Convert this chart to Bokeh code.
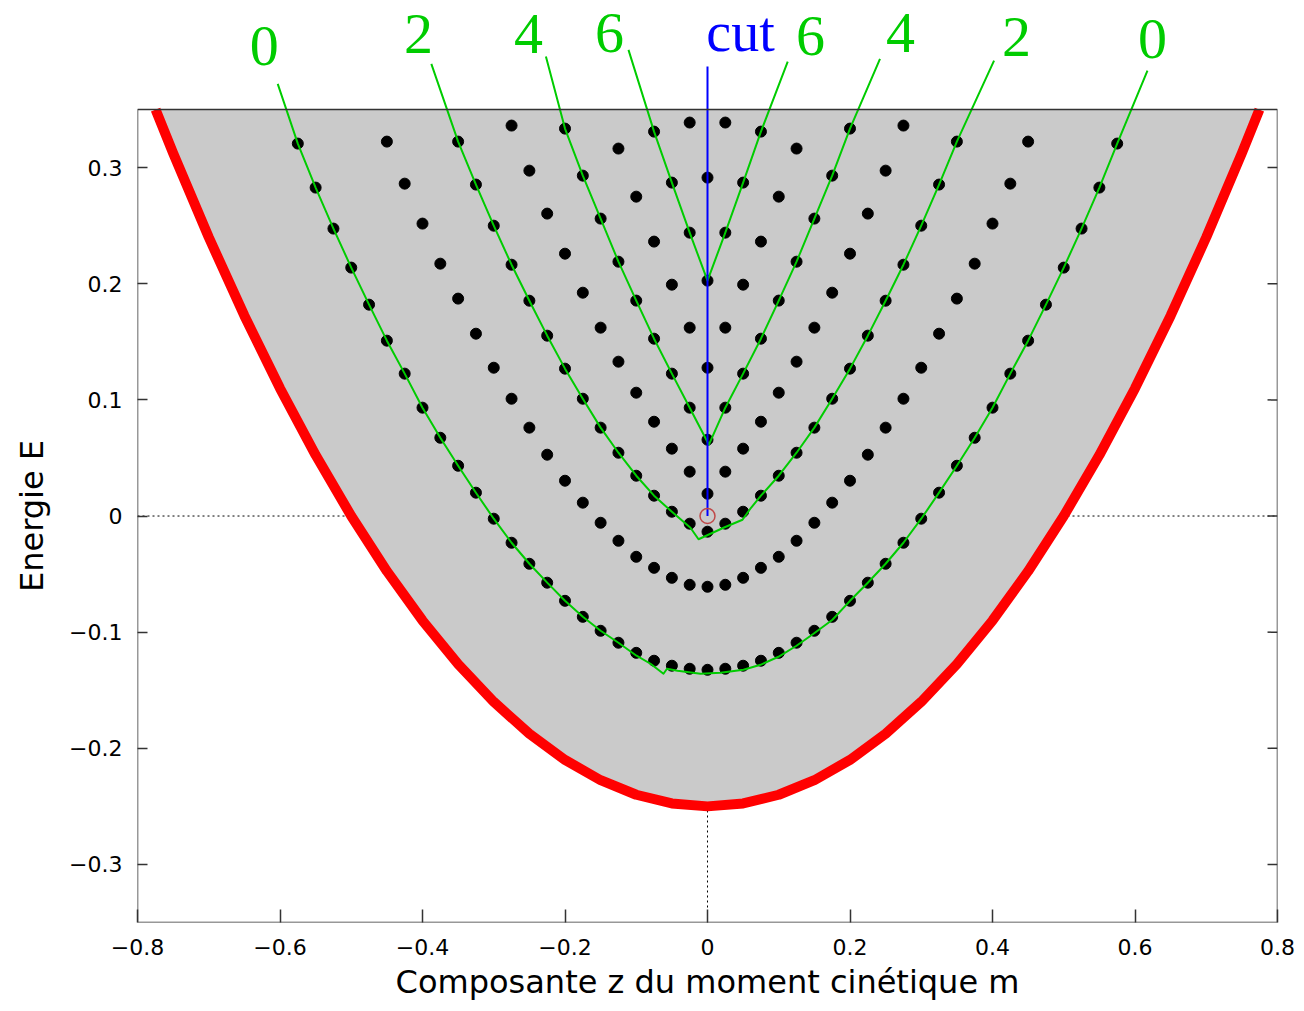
import math
from bokeh.plotting import figure
from bokeh.layouts import row
from bokeh.models import (Range1d, FixedTicker, Span, BoxAnnotation, CustomJSTickFormatter)
from bokeh.core.properties import value
from bokeh.embed import file_html
from bokeh.resources import INLINE

# ---------------- data ----------------
# quantised values of m (step 0.025), non-negative half; the spectrum is symmetric in m
m_grid = [0.0, 0.025, 0.05, 0.075, 0.1, 0.125, 0.15, 0.175, 0.2, 0.225, 0.25, 0.275,
          0.3, 0.325, 0.35, 0.375, 0.4, 0.425, 0.45, 0.475, 0.5, 0.525, 0.55, 0.575]

# energy levels, one list per band, indexed by |m| / 0.025
band0_E = [-0.1324, -0.1315, -0.1289, -0.1246, -0.1178, -0.1091, -0.0988, -0.0868,
           -0.0730, -0.0574, -0.0411, -0.0230, -0.0023, 0.0201, 0.0433, 0.0674,
           0.0933, 0.1226, 0.1510, 0.1820, 0.2139, 0.2475, 0.2828, 0.3207]
band1_E = [-0.0609, -0.0592, -0.0532, -0.0446, -0.0351, -0.0213, -0.0058, 0.0115,
           0.0304, 0.0528, 0.0761, 0.1010, 0.1277, 0.1570, 0.1872, 0.2173, 0.2518,
           0.2862, 0.3224]
band2_E = [-0.0135, -0.0066, 0.0037, 0.0175, 0.0347, 0.0545, 0.0761, 0.1010, 0.1269,
           0.1553, 0.1854, 0.2164, 0.2500, 0.2854, 0.3224]
band3_E = [0.0192, 0.0382, 0.0580, 0.0812, 0.1062, 0.1329, 0.1622, 0.1923, 0.2259,
           0.2604, 0.2974, 0.3362]
band4_E = [0.0657, 0.0933, 0.1226, 0.1527, 0.1855, 0.2190, 0.2561, 0.2931, 0.3336]
band5_E = [0.1277, 0.1622, 0.1992, 0.2363, 0.2750, 0.3164]
band6_E = [0.2027, 0.2440, 0.2871, 0.3310]
band7_E = [0.2914, 0.3388]
bands = [band0_E, band1_E, band2_E, band3_E, band4_E, band5_E, band6_E, band7_E]

# lower boundary of the allowed region (red curve)
red_m = [-0.7746, -0.75, -0.70, -0.65, -0.60, -0.55, -0.50, -0.45, -0.40, -0.35, -0.30,
         -0.25, -0.20, -0.15, -0.10, -0.05, 0.0, 0.05, 0.10, 0.15, 0.20, 0.25, 0.30,
         0.35, 0.40, 0.45, 0.50, 0.55, 0.60, 0.65, 0.70, 0.75, 0.7746]
red_E = [0.35, 0.3125, 0.24, 0.1725, 0.11, 0.0525, 0.0, -0.0475, -0.09, -0.1275, -0.16,
         -0.1875, -0.21, -0.2275, -0.24, -0.2475, -0.25, -0.2475, -0.24, -0.2275, -0.21,
         -0.1875, -0.16, -0.1275, -0.09, -0.0475, 0.0, 0.0525, 0.11, 0.1725, 0.24,
         0.3125, 0.35]

# extra vertices of the green lattice lines (ends near the labels, bends near the centre)
g0_end_m = [-0.6032, 0.6175]
g0_end_E = [0.3721, 0.3835]
g0_mid_m = [-0.0996, -0.0800, -0.0618, -0.0568, -0.0421, -0.0098, 0.0182, 0.0505,
            0.0744, 0.0996, 0.1249, 0.1488, 0.1754]
g0_mid_E = [-0.1203, -0.1272, -0.1358, -0.1315, -0.1332, -0.1358, -0.1350, -0.1324,
            -0.1281, -0.1212, -0.1117, -0.1014, -0.0893]
g2_end_m = [-0.3876, 0.4022]
g2_end_E = [0.3893, 0.3922]
g2_mid_m = [-0.0239, -0.0126, 0.0225, 0.0491, 0.0611]
g2_mid_E = [-0.0101, -0.0200, -0.0101, -0.0032, 0.0071]
g4_end_m = [-0.2268, 0.2421]
g4_end_E = [0.3956, 0.3936]
g4_mid_m = [0.002]
g4_mid_E = [0.0614]
g6_end_m = [-0.1109, 0.1126]
g6_end_E = [0.4014, 0.3913]
cut_top_E = 0.3870

# labels above the frame
green_labels = ["0", "2", "4", "6", "6", "4", "2", "0"]
green_label_m = [-0.6222, -0.4056, -0.2512, -0.1375, 0.1446, 0.2709, 0.4337, 0.6246]
green_label_E = [0.4049, 0.4153, 0.4153, 0.4161, 0.4135, 0.4161, 0.4127, 0.4110]
cut_label = ["cut"]
cut_label_m = [0.0463]
cut_label_E = [0.4172]

x_ticks = [-0.8, -0.6, -0.4, -0.2, 0.0, 0.2, 0.4, 0.6, 0.8]
y_ticks = [-0.3, -0.2, -0.1, 0.0, 0.1, 0.2, 0.3]
X_MIN, X_MAX = -0.8, 0.8
Y_MIN, Y_MAX = -0.35, 0.35
Y_CANVAS_TOP = 0.4439   # frame extends above the box so the labels can be drawn
RIGHT_TICK = 0.014      # length of the mirrored ticks on the right side (data units)

LEFT_W = 60
BOTTOM = 89

# ---------------- main figure ----------------
p = figure(width=1304 - LEFT_W, height=1011, output_backend="svg", toolbar_location=None,
           x_range=Range1d(X_MIN, X_MAX), y_range=Range1d(Y_MIN, Y_CANVAS_TOP),
           min_border_left=137 - LEFT_W, min_border_right=27, min_border_top=0,
           min_border_bottom=BOTTOM)
p.xgrid.visible = False
p.ygrid.visible = False
p.outline_line_color = None
p.background_fill_color = "white"

fmt = CustomJSTickFormatter(code="""
if (Math.abs(tick) < 1e-9) return '0';
return (tick < 0 ? '\u2212' : '') + Math.abs(tick).toFixed(1);
""")

ax = p.xaxis[0]
ax.ticker = FixedTicker(ticks=x_ticks)
ax.formatter = fmt
ax.axis_line_color = None
ax.major_tick_in = 13
ax.major_tick_out = 0
ax.major_tick_line_color = "#333333"
ax.major_tick_line_width = 1.5
ax.minor_tick_line_color = None
ax.major_label_text_font = "DejaVu Sans"
ax.major_label_text_font_size = "22px"
ax.major_label_text_color = "black"
ax.major_label_standoff = 16
ax.axis_label = "Composante z du moment cinétique m"
ax.axis_label_text_font = "DejaVu Sans"
ax.axis_label_text_font_size = "32px"
ax.axis_label_text_font_style = "normal"
ax.axis_label_text_color = "black"
ax.axis_label_standoff = 5

ay = p.yaxis[0]
ay.ticker = FixedTicker(ticks=y_ticks)
ay.formatter = fmt
ay.axis_line_color = None
ay.major_tick_in = 10
ay.major_tick_out = 0
ay.major_tick_line_color = "#333333"
ay.major_tick_line_width = 1.5
ay.minor_tick_line_color = None
ay.major_label_text_font = "DejaVu Sans"
ay.major_label_text_font_size = "22px"
ay.major_label_text_color = "black"
ay.major_label_standoff = 15

# mirrored ticks on the right side of the box
p.segment(x0=[X_MAX] * len(y_ticks), y0=y_ticks,
          x1=[X_MAX - RIGHT_TICK] * len(y_ticks), y1=y_ticks,
          line_color="#333333", line_width=1.5)

# dotted reference lines
p.add_layout(Span(location=0, dimension="width", line_color="black", line_width=1,
                  line_dash="2 3", level="underlay"))
p.segment(x0=[0], y0=[Y_MIN], x1=[0], y1=[min(red_E)], line_color="black",
          line_width=1, line_dash="2 3")

# allowed region and its boundary
p.varea(x=red_m, y1=red_E, y2=[Y_MAX] * len(red_m), fill_color="#cacaca")
p.line(red_m, red_E, line_color="#ff0000", line_width=10, line_join="round")

# quantum states
dot_m, dot_E = [], []
for b in bands:
    n = len(b)
    dot_m += [-m for m in m_grid[1:n][::-1]] + m_grid[:n]
    dot_E += b[1:n][::-1] + b[:n]
p.scatter(dot_m, dot_E, marker="circle", size=11, fill_color="black",
          line_color="black")

# green lattice lines
def arm(band, k_from, k_to, sign):
    ks = range(k_from, k_to - 1, -1) if k_from > k_to else range(k_from, k_to + 1)
    return [sign * m_grid[k] for k in ks], [band[k] for k in ks]

green_lines = []
lm, le = arm(band0_E, 23, 5, -1)
rm, re_ = arm(band0_E, 8, 23, 1)
green_lines.append(([g0_end_m[0]] + lm + g0_mid_m + rm + [g0_end_m[1]],
                    [g0_end_E[0]] + le + g0_mid_E + re_ + [g0_end_E[1]]))
lm, le = arm(band2_E, 14, 2, -1)
rm, re_ = arm(band2_E, 3, 14, 1)
green_lines.append(([g2_end_m[0]] + lm + g2_mid_m + rm + [g2_end_m[1]],
                    [g2_end_E[0]] + le + g2_mid_E + re_ + [g2_end_E[1]]))
lm, le = arm(band4_E, 8, 1, -1)
rm, re_ = arm(band4_E, 1, 8, 1)
green_lines.append(([g4_end_m[0]] + lm + g4_mid_m + rm + [g4_end_m[1]],
                    [g4_end_E[0]] + le + g4_mid_E + re_ + [g4_end_E[1]]))
lm, le = arm(band6_E, 3, 1, -1)
rm, re_ = arm(band6_E, 0, 3, 1)
green_lines.append(([g6_end_m[0]] + lm + rm + [g6_end_m[1]],
                    [g6_end_E[0]] + le + re_ + [g6_end_E[1]]))
p.multi_line([g[0] for g in green_lines], [g[1] for g in green_lines],
             line_color="#00cc00", line_width=2, line_join="round")

# the cut
p.segment(x0=[0], y0=[0], x1=[0], y1=[cut_top_E], line_color="#0000ff", line_width=2)
p.scatter([0], [0], marker="circle", size=15, fill_color=None, line_color="#c04848",
          line_width=1.5)

# labels above the box
p.text(x=green_label_m, y=green_label_E, text=green_labels,
       text_font=value("Liberation Serif"), text_font_size="58px",
       text_color="#00cc00", text_align="center", text_baseline="alphabetic")
p.text(x=cut_label_m, y=cut_label_E, text=cut_label,
       text_font=value("Liberation Serif"), text_font_size="56px",
       text_color="#0000ff", text_align="center", text_baseline="alphabetic")

# plot box
p.add_layout(BoxAnnotation(left=X_MIN, right=X_MAX, bottom=Y_MIN, top=Y_MAX,
                           fill_alpha=0, fill_color=None, line_color="#333333",
                           line_alpha=1.0, line_width=1.5))

# ---------------- narrow strip holding the y-axis title ----------------
pl = figure(width=LEFT_W, height=1011, output_backend="svg", toolbar_location=None,
            x_range=Range1d(0, 1), y_range=Range1d(Y_MIN, Y_CANVAS_TOP),
            x_axis_type=None, y_axis_type=None, min_border_left=0,
            min_border_right=0, min_border_top=0, min_border_bottom=BOTTOM)
pl.outline_line_color = None
pl.background_fill_color = "white"
pl.text(x=[0.53], y=[0.0], text=["Energie E"], angle=math.pi / 2,
        text_font=value("DejaVu Sans"), text_font_size="32px", text_color="black",
        text_align="center", text_baseline="middle")

layout = row(pl, p, spacing=0)
open("out.html", "w").write(file_html(layout, INLINE))
